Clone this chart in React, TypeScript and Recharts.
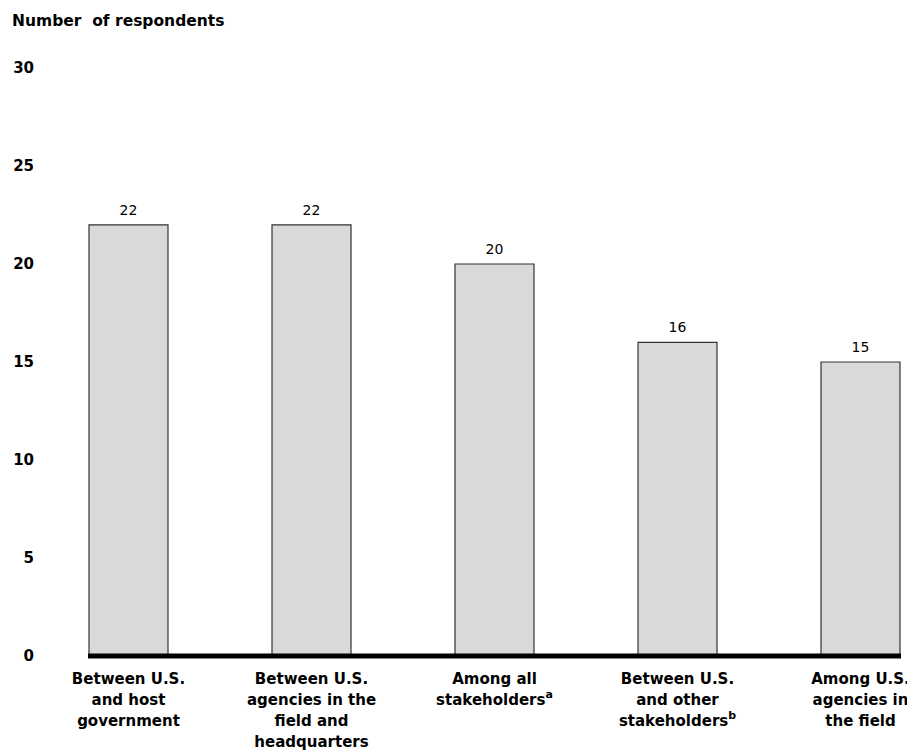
import React from "react";
import { BarChart, Bar, XAxis, YAxis, LabelList } from "recharts";

const categoryLines: string[][] = [
  ["Between U.S.", "and host", "government"],
  ["Between U.S.", "agencies in the", "field and", "headquarters"],
  ["Among all", "stakeholders"],
  ["Between U.S.", "and other", "stakeholders"],
  ["Among U.S.", "agencies in", "the field"],
];
const footnoteMarks: string[] = ["", "", "a", "b", ""];
const respondents: number[] = [22, 22, 20, 16, 15];
const yTicks: number[] = [0, 5, 10, 15, 20, 25, 30];
const positions: number[] = [0, 1, 2, 3, 4];

const data = positions.map((p, i) => ({ pos: p, value: respondents[i] }));

const FONT = "'DejaVu Sans', Verdana, sans-serif";

const CategoryTick = (props: any) => {
  const { x, y, payload } = props;
  const idx = Math.round(payload.value);
  const lines = categoryLines[idx] || [];
  const mark = footnoteMarks[idx];
  return (
    <g>
      {lines.map((line, i) => (
        <text
          key={i}
          x={x}
          y={y + 28 + i * 21}
          textAnchor="middle"
          fontFamily={FONT}
          fontWeight="bold"
          fontSize={15}
          fill="#000"
        >
          {line}
          {i === lines.length - 1 && mark ? (
            <tspan dy={-7} fontSize={11}>
              {mark}
            </tspan>
          ) : null}
        </text>
      ))}
    </g>
  );
};

export default function App() {
  return (
    <div style={{ position: "relative", width: 907, height: 747 }}>
      <svg
        width={300}
        height={30}
        style={{ position: "absolute", left: 0, top: 0, zIndex: 2 }}
      >
        <text x={4} y={18} fontFamily={FONT} fontWeight="bold" fontSize={15.5} fill="#000" xmlSpace="preserve">
          Number  of respondents
        </text>
      </svg>
      <BarChart
        width={907}
        height={747}
        data={data}
        margin={{ top: 60, right: 14, bottom: 0, left: 0 }}
        style={{ overflow: "visible" }}
      >
        <XAxis
          dataKey="pos"
          type="number"
          domain={[-0.2213, 4.2213]}
          ticks={positions}
          allowDataOverflow
          tickLine={false}
          tickSize={0}
          tickMargin={0}
          axisLine={{ stroke: "#000", strokeWidth: 5 }}
          tick={<CategoryTick />}
          interval={0}
          height={99}
        />
        <YAxis
          type="number"
          domain={[0, 30]}
          ticks={yTicks}
          width={80}
          axisLine={false}
          tickLine={false}
          tickSize={0}
          tickMargin={54}
          tick={{ fill: "#000", fontFamily: FONT, fontWeight: "bold", fontSize: 15 }}
        />
        <Bar
          dataKey="value"
          barSize={79}
          fill="#d9d9d9"
          stroke="#333"
          strokeWidth={1.2}
          isAnimationActive={false}
        >
          <LabelList
            dataKey="value"
            position="top"
            offset={10}
            fill="#000"
            fontFamily={FONT}
            fontSize={14}
          />
        </Bar>
      </BarChart>
    </div>
  );
}
